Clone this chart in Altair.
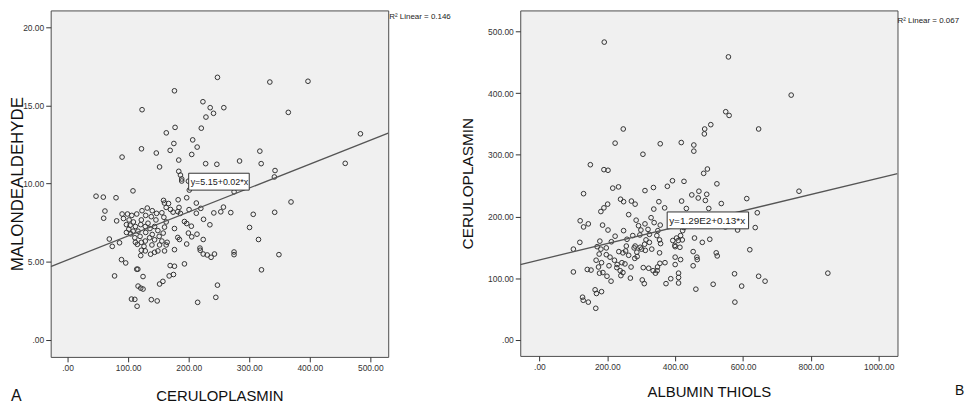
import altair as alt
import pandas as pd

FONT = "Liberation Sans"

# ---------------- Panel A: CERULOPLASMIN vs MALONDEALDEHYDE ----------------
a_cp = [247.5, 334, 397, 176.5, 223.5, 235.5, 123, 258, 241, 228.5,
        364.5, 163, 177.5, 220.8, 483.6, 206.6, 175.5, 214, 122, 169.4,
        146.5, 90, 317.5, 205, 183.6, 228, 246.5, 284, 319.7, 458.5,
        151.9, 183.6, 186.4, 188.5, 188.5, 342.6, 341.5, 199.5, 201, 47,
        59, 80, 108, 275, 369, 158.5, 160, 182.6, 196.7, 212.6,
        220, 257.4, 253, 269.5, 241.5, 306.6, 342, 212.6, 200.6, 182,
        186.3, 61.7, 59.6, 81, 300.5, 235, 193, 196.7, 204.4, 68.9,
        73.8, 85.8, 315.3, 224, 213.7, 205, 196.7, 182, 184.7, 218.6,
        224, 230.6, 237, 242.6, 274.9, 274.9, 349, 320.2, 193, 169.4,
        176.5, 167.8, 174.9, 89, 96, 77.6, 114.2, 116, 124.6, 151.9,
        157.4, 116.4, 120.8, 124.6, 247.5, 244.8, 214.8, 105.5, 111, 114.8,
        138.3, 148,
        90, 98.9, 106, 114.2, 92.3, 101.6, 108.7, 97.2, 103.3, 112,
        101.1, 108.2, 116.4, 97.2, 104.4, 120.8, 121.8, 129, 122.9, 131.6,
        139.8, 147, 138.2, 145.9, 132.8, 128.3, 136, 143.7, 149.1, 129,
        139.8, 119.7, 111, 112, 121.8, 128.3, 135.5, 143.7, 151.3, 157.9,
        160.1, 162.8, 159, 155.7, 166.7, 162.8, 170, 174.2, 184, 224.5,
        176.5, 199.5, 219.1, 176.5, 164.4, 155.7, 162.8, 151.9, 160.1, 149.1,
        143.7, 137.1, 128.3, 121.8, 120.8, 115.2, 126.2, 139.3]
a_mda = [16.8, 16.5, 16.55, 15.94, 15.24, 14.86, 14.73, 14.86, 14.5, 14.26,
         14.56, 13.25, 13.6, 13.55, 13.19, 12.8, 12.57, 12.34, 12.23, 12.13,
         11.96, 11.7, 12.08, 11.87, 11.51, 11.28, 11.24, 11.45, 11.28, 11.30,
         11.07, 10.79, 10.55, 10.3, 10.17, 10.84, 10.43, 10.16, 9.59, 9.2,
         9.14, 9.1, 9.54, 9.48, 8.83, 8.93, 8.76, 8.97, 9.1, 8.76,
         8.42, 8.5, 8.2, 8.15, 8.13, 8.04, 8.17, 8.11, 8.34, 8.21,
         8.1, 8.25, 7.79, 7.62, 7.2, 7.37, 7.58, 7.45, 7.28, 6.46,
         5.99, 6.22, 6.43, 6.43, 6.77, 6.6, 6.14, 6.56, 6.43, 5.88,
         5.5, 5.44, 5.29, 5.5, 5.63, 5.46, 5.46, 4.49, 4.87, 4.76,
         4.72, 4.1, 4.19, 5.14, 4.93, 4.1, 4.53, 4.53, 4.06, 3.58,
         3.75, 3.45, 3.32, 3.26, 3.51, 2.73, 2.41, 2.62, 2.6, 2.16,
         2.58, 2.5,
         8.06, 8.06, 7.97, 8.06, 7.77, 7.68, 7.55, 7.38, 7.34, 7.26,
         7.09, 6.96, 6.96, 6.88, 6.79, 7.38, 7.68, 7.97, 8.27, 8.44,
         8.27, 8.1, 7.89, 7.68, 7.47, 7.26, 7.13, 7.26, 7.0, 6.88,
         6.75, 6.63, 6.54, 6.25, 6.25, 6.33, 6.54, 6.41, 6.63, 6.84,
         7.22, 7.55, 7.85, 8.14, 8.73, 8.48, 8.35, 8.18, 8.48, 7.72,
         7.13, 6.84, 5.74, 5.78, 6.25, 6.33, 6.08, 6.08, 5.7, 5.7,
         5.61, 5.49, 5.7, 5.74, 5.4, 6.12, 5.99, 6.08]

# fit line (end points at the frame edges)
a_line_x = [-27.9, 529.5]
a_line_y = [4.70, 13.23]

a_xticks = [0, 100, 200, 300, 400, 500]
a_yticks = [0, 5, 10, 15, 20]
a_xdomain = [-27.9, 529.5]
a_ydomain = [-1.08, 21.08]

# ---------------- Panel B: ALBUMIN THIOLS vs CERULOPLASMIN ----------------
b_thiols = [191, 557, 742, 549, 559, 646, 247, 487, 486, 505,
            223, 356, 418, 455, 455, 305, 150, 190, 202, 495,
            484, 392, 377, 426, 523, 336, 311, 233, 216, 130,
            470, 493, 449, 468, 489, 765, 611, 239, 248, 271,
            282, 201, 190, 181, 352, 369, 419, 337, 536, 433,
            499, 642, 263,
            186, 120, 130, 144, 202, 119, 100, 636, 584, 548,
            620, 457, 480, 502, 453, 521, 524, 465, 453, 575,
            646, 665, 596, 512, 461, 576, 850, 100, 141, 152,
            127, 129, 144, 166, 164, 168, 183, 177, 199, 211,
            268, 309, 303, 373, 387, 410, 410, 410, 342, 347,
            400, 400, 416, 354, 331, 301, 281, 270, 252, 240,
            229, 221, 205, 183, 174, 176, 170, 178, 197, 212,
            223, 248, 258, 256, 275, 279, 287, 297, 285, 292,
            299, 311, 320, 329, 338, 324, 314, 310, 324, 346,
            354, 357, 356, 349, 393, 400, 404, 409, 416, 422,
            426, 414, 434,
            296, 181, 167, 187, 197, 208, 243, 228, 238, 246,
            234, 246, 254, 263, 282, 312, 288, 306, 322, 335,
            348, 355, 370, 399, 421, 464]
b_cp = [483, 459, 397, 370, 364, 342, 342, 342, 334, 349,
        319, 318, 320, 316, 306, 301, 284, 276, 275, 277,
        270, 258, 249, 257, 253, 247, 242, 248, 246, 237,
        241, 236, 235, 230, 226, 241, 229, 228, 224, 225,
        220, 220, 214, 208, 224, 214, 225, 212, 221, 213,
        213, 206, 203,
        186, 193, 183, 188, 178, 158, 147, 182, 178, 183,
        146, 165, 158, 163, 143, 141, 136, 130, 120, 107,
        103, 95, 87, 90, 82, 61, 108, 110, 114, 113,
        69, 64, 61, 51, 81, 75, 78, 108, 103, 95,
        100, 91, 97, 91, 99, 92, 101, 108, 108, 112,
        122, 134, 130, 141, 147, 147, 132, 118, 123, 104,
        122, 129, 120, 125, 118, 139, 151, 160, 149, 159,
        168, 177, 163, 152, 169, 149, 142, 150, 194, 185,
        178, 188, 179, 198, 190, 171, 162, 155, 158, 169,
        162, 156, 186, 177, 161, 151, 165, 161, 169, 177,
        182, 150, 186,
        170, 147, 129, 109, 138, 134, 125, 117, 112, 109,
        143, 141, 144, 137, 152, 145, 135, 117, 116, 112,
        118, 124, 125, 153, 162, 134]

b_line_x = [-56.6, 1055.3]
b_line_y = [122.0, 269.6]

b_xticks = [0, 200, 400, 600, 800, 1000]
b_yticks = [0, 100, 200, 300, 400, 500]
b_xdomain = [-56.6, 1055.3]
b_ydomain = [-26.3, 534.4]

LEXPR = "datum.value == 0 ? '.00' : format(datum.value, '.2f')"


def axis(values, title, tsize, tpad):
    return alt.Axis(values=values, title=title, labelExpr=LEXPR, grid=False,
                    domain=False, tickSize=5, tickColor="#333", tickWidth=1,
                    labelColor="#333", labelFont=FONT, labelFontSize=8.5,
                    labelPadding=2, titleFont=FONT, titleFontSize=tsize,
                    titleFontWeight="normal", titleColor="#111",
                    titlePadding=tpad)


def panel(xs, ys, lx, ly, xdom, ydom, xt, yt, xtitle, ytitle, xts, yts,
          xtp, ytp, eq, eqsize, box, r2, r2pos, letter, letterpos, lsize,
          w, h):
    xsc = alt.Scale(domain=xdom, nice=False, zero=False)
    ysc = alt.Scale(domain=ydom, nice=False, zero=False)
    xax = axis(xt, xtitle, xts, xtp)
    yax = axis(yt, ytitle, yts, ytp)
    X = alt.X("x:Q", scale=xsc, axis=xax)
    Y = alt.Y("y:Q", scale=ysc, axis=yax)
    pts = alt.Chart(pd.DataFrame({"x": xs, "y": ys})).mark_point(
        shape="circle", filled=False, size=22, strokeWidth=1,
        color="#333333", opacity=1).encode(x=X, y=Y)
    line = alt.Chart(pd.DataFrame({"x": lx, "y": ly})).mark_line(
        color="#555555", strokeWidth=1.3, clip=True).encode(x=X, y=Y)
    one = pd.DataFrame({"t": [eq]})
    rect = alt.Chart(one).mark_rect(fill="white", stroke="#333",
                                     strokeWidth=1).encode(
        x=alt.value(box[0]), x2=alt.value(box[1]),
        y=alt.value(box[2]), y2=alt.value(box[3]))
    eqt = alt.Chart(one).mark_text(align="left", baseline="middle",
                                   font=FONT, fontSize=eqsize,
                                   color="#222").encode(
        x=alt.value(box[0] + 2), y=alt.value((box[2] + box[3]) / 2 + 0.5),
        text="t:N")
    r2t = alt.Chart(pd.DataFrame({"t": [r2]})).mark_text(
        align="left", baseline="middle", font=FONT, fontSize=8,
        color="#222").encode(x=alt.value(r2pos[0]), y=alt.value(r2pos[1]),
                             text="t:N")
    lt = alt.Chart(pd.DataFrame({"t": [letter]})).mark_text(
        align="left", baseline="middle", font=FONT, fontSize=lsize,
        color="#111").encode(x=alt.value(letterpos[0]),
                             y=alt.value(letterpos[1]), text="t:N")
    return alt.layer(pts, line, rect, eqt, r2t, lt).properties(width=w, height=h)


chart_a = panel(a_cp, a_mda, a_line_x, a_line_y, a_xdomain, a_ydomain,
                a_xticks, a_yticks, "CERULOPLASMIN", "MALONDEALDEHYDE",
                15, 17, 16, -4, "y=5.15+0.02*x", 9, (139, 200, 164, 181),
                "R\u00b2 Linear = 0.146", (341, 7), "A", (-40, 388), 16,
                340, 349)

chart_b = panel(b_thiols, b_cp, b_line_x, b_line_y, b_xdomain, b_ydomain,
                b_xticks, b_yticks, "ALBUMIN THIOLS", "CERULOPLASMIN",
                15, 15.5, 13, 12, "y=1.29E2+0.13*x", 10, (148, 230, 203, 220),
                "R\u00b2 Linear = 0.067", (380, 11), "B", (438, 383), 14,
                380, 348)

chart = alt.hconcat(chart_a, chart_b, spacing=8).properties(
    padding=0, background="white"
).configure_view(fill="#f0f0f0", stroke="#4d4d4d", strokeWidth=1)

chart.save("out.html", embed_options={"renderer": "svg", "actions": False})
